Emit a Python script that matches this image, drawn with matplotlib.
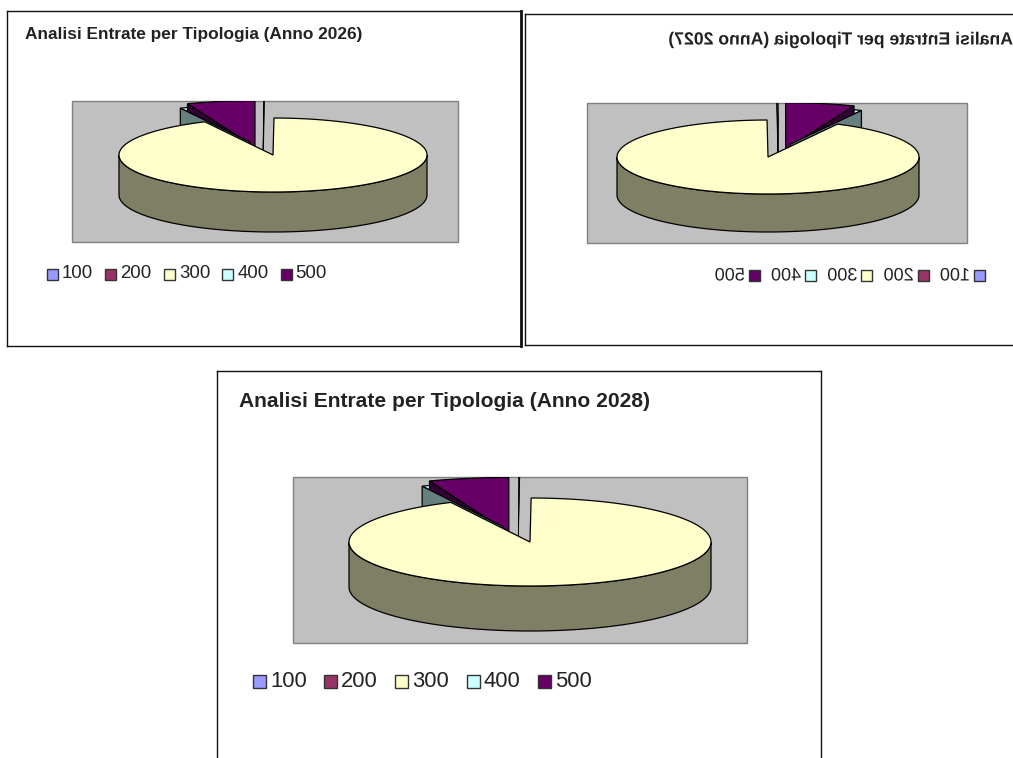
"""
Analisi Entrate per Tipologia: three exploded 3D-style pies, the 2027 panel mirrored.
"""

import matplotlib
matplotlib.use('Agg')
import matplotlib.pyplot as plt
from matplotlib.patches import Polygon, Rectangle
from matplotlib.patheffects import AbstractPathEffect
from matplotlib.transforms import Affine2D
import numpy as np

plt.rcParams.update({
    'font.family': 'Liberation Sans',
    'figure.facecolor': 'white',
})

W, H = 1013, 758

categories = ['100', '200', '300', '400', '500']
years = ['2026', '2027', '2028']
values_2026 = [0.05, 0.05, 92.6, 1.6, 5.7]
values_2027 = [0.05, 0.05, 92.3, 1.7, 5.9]
values_2028 = [0.05, 0.05, 92.7, 1.5, 5.7]
all_values = [values_2026, values_2027, values_2028]

colors = ['#9999FF', '#993366', '#FFFFCC', '#CCFFFF', '#660066']
sides = ['#4C4C7F', '#4C1933', '#7F7F66', '#667F7F', '#330033']

# explode offsets and rim size, in units of the pie's own half axes
explode_x = [-0.065, -0.065, 0.0, -0.15, -0.117]
explode_y = [0.11, 0.11, 0.0, 0.35, 0.216]
rims = [1.4, 1.4, 1.0, 1.02, 1.25]

# panel layout in pixels: box, plot area, pie, legend
boxes = [(7, 11, 514, 335), (525, 14, 507, 331), (217, 371, 604, 420)]
plot_rects = [(65, 90, 386, 141), (65, 89, 380, 140), (76, 106, 454, 166)]
centers = [(266, 144), (264, 143), (313, 171)]
half_axes = [(154, 37), (151, 37), (181, 44)]
depths = [40, 38, 45]
title_pos = [(18, 23, 12.4), (19, 26, 12.7), (22, 31, 15.1)]
legend_pos = [(40, 263, 58.4, 11, 13.4), (47, 262, 56.3, 11, 13.0), (36, 311, 71.2, 13, 15.8)]


class Mirror(AbstractPathEffect):
    # flips the glyph outlines about a vertical line, the text stays a text
    def __init__(self, pivot):
        super().__init__()
        self.pivot = pivot

    def draw_path(self, renderer, gc, tpath, affine, rgbFace=None):
        flip = Affine2D().translate(-self.pivot, 0).scale(-1, 1).translate(self.pivot, 0)
        renderer.draw_path(gc, tpath, affine + flip, rgbFace)


def put_text(ax, x, y, s, mirror, **kw):
    t = ax.text(x, y, s, ha='left', va='center', **kw)
    if mirror:
        width = t.get_window_extent(ax.figure.canvas.get_renderer()).width
        t.set_ha('center')
        t.set_x(x + width / 2)
        t.set_path_effects([Mirror(ax.transData.transform((x + width / 2, y))[0])])
    return t


def draw_pie(ax, values, center, axes_len, depth, clip):
    cx, cy = center
    a, b = axes_len
    edges = np.cumsum([0] + list(values)) * 360 / sum(values)

    def rim(theta, i, r):
        t = np.radians(theta)
        return (cx + a * (explode_x[i] + r * np.sin(t)),
                cy - b * (explode_y[i] + r * np.cos(t)))

    def slice_shape(i):
        th = np.linspace(edges[i], edges[i + 1], 30)
        x, y = rim(th, i, rims[i])
        ox, oy = rim(0, i, 0)
        return x, y, ox, oy

    def add_clipped(p):
        ax.add_patch(p)
        p.set_clip_path(clip)

    # the slices pulled out sit behind the big one
    x, y, ox, oy = slice_shape(3)
    add_clipped(Polygon(np.column_stack([np.r_[ox, x], np.r_[oy, y]]), fc=colors[3], ec='black', lw=0.9))

    x, y, ox, oy = slice_shape(4)
    add_clipped(Polygon([(ox, oy), (x[0], y[0]), (x[0], y[0] + depth), (ox, oy + depth)],
                        fc=sides[4], ec='black', lw=0.9))
    add_clipped(Polygon(np.column_stack([np.r_[ox, x], np.r_[oy, y]]), fc=colors[4], ec='black', lw=0.9))

    for i in [0, 1]:
        x, y, ox, oy = slice_shape(i)
        add_clipped(Polygon(np.column_stack([np.r_[ox, x], np.r_[oy, y]]), fc=colors[i], ec='black', lw=0.5))

    x, y, ox, oy = slice_shape(3)
    add_clipped(Polygon([(ox, oy), (x[0], y[0]), (x[0], y[0] + depth), (ox, oy + depth)],
                        fc=sides[3], ec='black', lw=0.9))

    th = np.linspace(90, 270, 80)
    x, y = rim(th, 2, rims[2])
    ax.add_patch(Polygon(np.column_stack([np.r_[x, x[::-1]], np.r_[y, y[::-1] + depth]]),
                         fc=sides[2], ec='black', lw=0.9))
    th = np.linspace(edges[2], edges[3], 160)
    x, y = rim(th, 2, rims[2])
    ax.add_patch(Polygon(np.column_stack([np.r_[cx, x], np.r_[cy, y]]),
                         fc=colors[2], ec='black', lw=0.9))


fig = plt.figure(figsize=(W / 100, H / 100), dpi=100)

for n, year in enumerate(years):
    x0, y0, w, h = boxes[n]
    mirror = year == '2027'
    ax = fig.add_axes([x0 / W, 1 - (y0 + h) / H, w / W, h / H])
    ax.set_xlim(w, 0) if mirror else ax.set_xlim(0, w)
    ax.set_ylim(h, 0)
    ax.set_xticks([])
    ax.set_yticks([])
    for s in ax.spines.values():
        s.set_linewidth(1.0)
        s.set_color('#111111')
    if n == 0:
        ax.spines['right'].set_linewidth(2.0)

    rx, ry, rw, rh = plot_rects[n]
    rect = Rectangle((rx, ry), rw, rh, fc='#C0C0C0', ec='#808080', lw=1.0)
    ax.add_patch(rect)
    draw_pie(ax, all_values[n], centers[n], half_axes[n], depths[n], rect)

    tx, ty, tsize = title_pos[n]
    put_text(ax, tx, ty, f'Analisi Entrate per Tipologia (Anno {year})', mirror,
             fontsize=tsize, fontweight='bold', color='#222222')

    lx, ly, step, box, fsize = legend_pos[n]
    for i, cat in enumerate(categories):
        sx = lx + i * step
        ax.add_patch(Rectangle((sx, ly - box / 2), box, box, fc=colors[i], ec='#333333', lw=1.0))
        put_text(ax, sx + box + 4, ly, cat, mirror, fontsize=fsize, color='#222222')

plt.savefig('out.png', dpi=100)
plt.close()
